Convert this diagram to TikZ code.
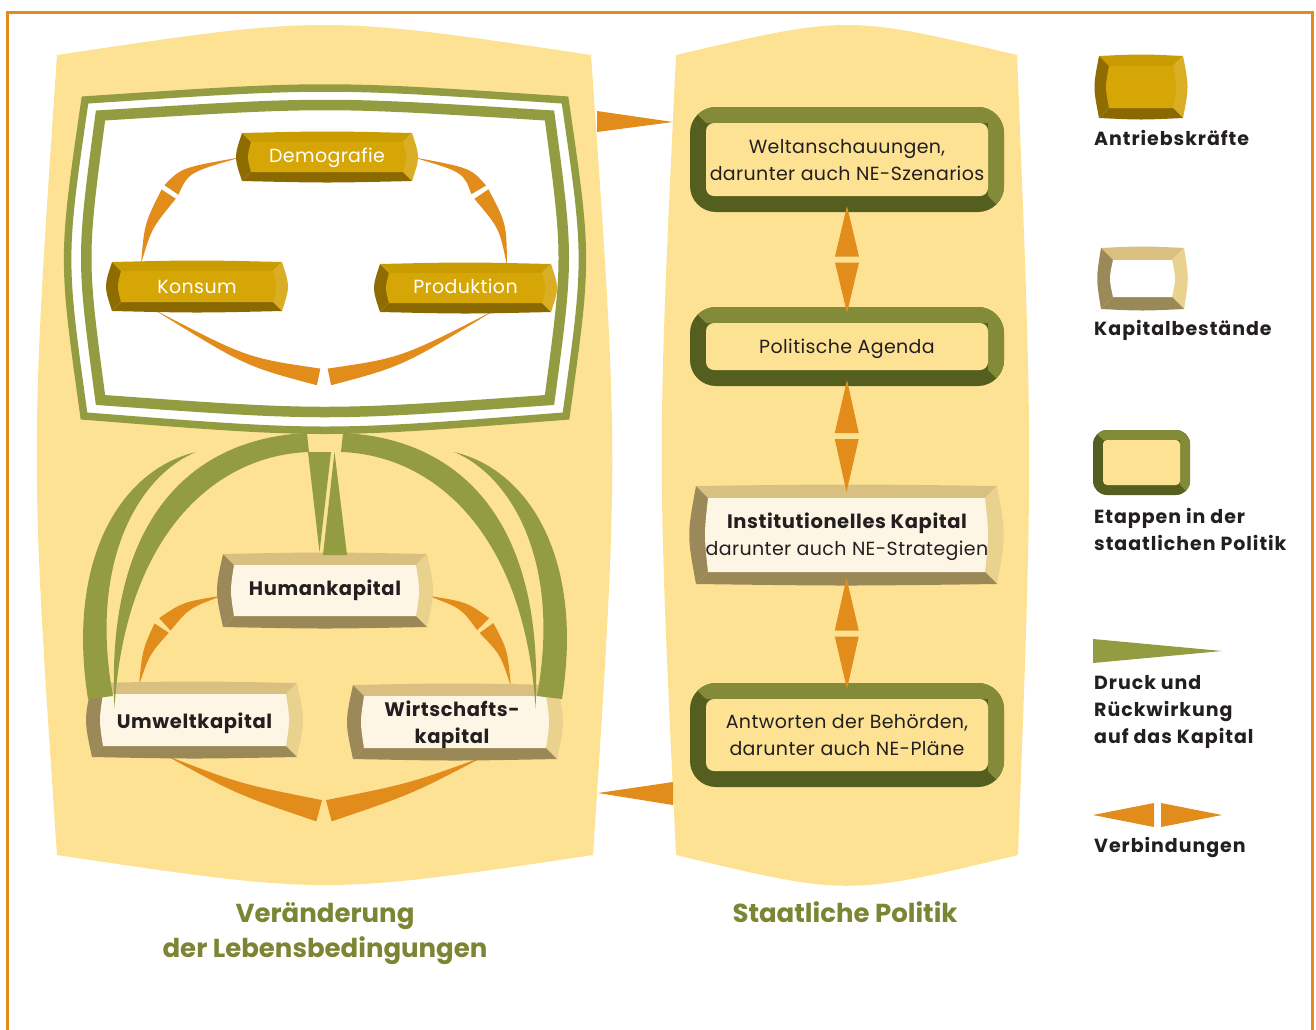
\documentclass[tikz,border=0pt]{standalone}
\usepackage{fontspec}
\setmainfont{Poppins}
\usetikzlibrary{calc}
\definecolor{panelc}{HTML}{FEE294}
\definecolor{connc}{HTML}{E28C1C}
\definecolor{druckc}{HTML}{939C41}
\definecolor{stagelight}{HTML}{838B38}
\definecolor{stagedark}{HTML}{545F1F}
\definecolor{gtop}{HTML}{C99D02}
\definecolor{gleft}{HTML}{8E6C00}
\definecolor{gbot}{HTML}{8A6A00}
\definecolor{gright}{HTML}{D9AE25}
\definecolor{gface}{HTML}{D5A605}
\definecolor{ktop}{HTML}{D9BF80}
\definecolor{kleft}{HTML}{9B8959}
\definecolor{kbot}{HTML}{9A8857}
\definecolor{kright}{HTML}{E9D18E}
\definecolor{kface}{HTML}{FEF6E5}
\definecolor{titlec}{HTML}{7B8533}
\definecolor{txtc}{HTML}{231F20}

% bevelled box drawn round a named node
\newcommand\bevelbox[8]{%
  \coordinate (bNW) at (#1.north west);
  \coordinate (bNE) at (#1.north east);
  \coordinate (bSE) at (#1.south east);
  \coordinate (bSW) at (#1.south west);
  \coordinate (iNW) at ($(#1.north west)+(#2,#2)$);
  \coordinate (iNE) at ($(#1.north east)+(-#2,#2)$);
  \coordinate (iSE) at ($(#1.south east)+(-#2,-#2)$);
  \coordinate (iSW) at ($(#1.south west)+(#2,-#2)$);
  \fill[#3] (bNW) .. controls ($(#1.north)+(0,-2)$) .. (bNE) -- (iNE) -- (iNW) -- cycle;
  \fill[#6] (bNE) .. controls ($(#1.east)+(#8,0)$) .. (bSE) -- (iSE) -- (iNE) -- cycle;
  \fill[#5] (bSE) .. controls ($(#1.south)+(0,2)$) .. (bSW) -- (iSW) -- (iSE) -- cycle;
  \fill[#4] (bSW) .. controls ($(#1.west)+(-#8,0)$) .. (bNW) -- (iNW) -- (iSW) -- cycle;
  \fill[#7] (iNW) -- (iNE) .. controls ($(#1.east)+(-#2+4,0)$) .. (iSE) -- (iSW) .. controls ($(#1.west)+(#2-4,0)$) .. (iNW) -- cycle;}

% rounded stage box
\newcommand\stagebox[4]{%
  \fill[stagedark, rounded corners=#3] (#1.north west) rectangle (#1.south east);
  \begin{scope}
    \clip[rounded corners=#3] (#1.north west) rectangle (#1.south east);
    \fill[stagelight] (#1.north west) -- (#1.north east) -- (#1.south east)
      -- ($(#1.south east)+(-#2,-#2)$) -- ($(#1.north east)+(-#2,#2)$) -- ($(#1.north west)+(#2,#2)$) -- cycle;
  \end{scope}
  \fill[panelc, rounded corners=#4] ($(#1.north west)+(#2,#2)$) rectangle ($(#1.south east)+(-#2,-#2)$);}

% tapered curved wedge: tip, control, base centre, half width
\newcommand\taper[4]{%
  \coordinate (tP) at ($(#3)!#4!90:(#2)$);
  \coordinate (tQ) at ($(#3)!#4!-90:(#2)$);
  \fill[connc] (#1) .. controls ($(#2)+0.5*(tP)-0.5*(#3)$) .. (tP) -- (tQ)
    .. controls ($(#2)+0.5*(tQ)-0.5*(#3)$) .. (#1) -- cycle;}
% double connection with gap
\newcommand\conn[7]{%
  \coordinate (gA) at ($(#3)!#7!(#2)$);
  \coordinate (gB) at ($(#3)!#7!(#4)$);
  \taper{#1}{#2}{gA}{#6}
  \taper{#5}{#4}{gB}{#6}}
% vertical double triangle between two stage nodes
\newcommand\vdouble[2]{%
  \coordinate (vm) at ($(#1.south)!.5!(#2.north)$);
  \fill[connc] ($(#1.south)+(0,-6)$) -- ($(vm)+(-12,-3)$) -- ($(vm)+(12,-3)$) -- cycle;
  \fill[connc] ($(#2.north)+(0,6)$) -- ($(vm)+(-12,3)$) -- ($(vm)+(12,3)$) -- cycle;}

\tikzset{
  boxnode/.style={inner sep=0pt, outer sep=0pt},
  bodytxt/.style={font=\fontsize{19}{23}\selectfont\addfontfeatures{LetterSpace=2}, text=txtc, inner sep=0pt, anchor=base},
  boldtxt/.style={font=\fontsize{19.5}{23}\selectfont\bfseries\addfontfeatures{LetterSpace=3}, text=txtc, inner sep=0pt, anchor=base},
  goldtxt/.style={bodytxt, text=white},
  legtxt/.style={font=\fontsize{19}{23}\selectfont\bfseries\addfontfeatures{LetterSpace=5}, text=txtc, inner sep=0pt, anchor=base west},
  titletxt/.style={font=\fontsize{26}{30}\selectfont\bfseries, text=titlec, inner sep=0pt, anchor=base},
}

\begin{document}
\begin{tikzpicture}[x=1pt,y=-1pt]
\useasboundingbox (0,0) rectangle (1316,1029);
\clip (0,0) rectangle (1316,1029);
\fill[white] (0,0) rectangle (1316,1029);

% outer orange frame
\draw[connc, line width=3] (7,1040) -- (7,12.5) -- (1312.5,12.5) -- (1312.5,1040);

% panels
\fill[panelc] (57,55) .. controls (324,15) .. (591,55) .. controls (619,455) .. (593,855)
  .. controls (325,895) .. (57,855) .. controls (30,455) .. (57,55) -- cycle;
\fill[panelc] (676,55) .. controls (847,15) .. (1017,55) .. controls (1033,455) .. (1018,855)
  .. controls (847,896) .. (676,855) .. controls (657,455) .. (676,55) -- cycle;

% links between the panels
\coordinate (pl1) at (597,121.5);
\coordinate (pr1) at (673,122);
\fill[connc] (pr1) -- ($(pl1)+(0,-10.5)$) -- ($(pl1)+(0,10.5)$) -- cycle;
\coordinate (pl2) at (598,793);
\coordinate (pr2) at (673,793.5);
\fill[connc] (pl2) -- ($(pr2)+(0,-11.5)$) -- ($(pr2)+(0,11.5)$) -- cycle;

% double frame
\fill[white] (85,100) .. controls (325,84) .. (565,100) .. controls (588,258) .. (566,416)
  .. controls (325,435) .. (84,416) .. controls (62,258) .. (85,100) -- cycle;
\draw[druckc, line width=7.5] (85,100) .. controls (325,84) .. (565,100) .. controls (588,258) .. (566,416)
  .. controls (325,435) .. (84,416) .. controls (62,258) .. (85,100) -- cycle;
\draw[druckc, line width=10.5] (100.5,115.5) .. controls (325,101.5) .. (549.5,115.5) .. controls (568.5,258) .. (549.5,400)
  .. controls (325,416) .. (100.5,400) .. controls (81.5,258) .. (100.5,115.5) -- cycle;

% nodes (positions)
\node[boxnode, minimum width=170, minimum height=48] (demo) at (327,157) {};
\node[boxnode, minimum width=170, minimum height=49] (kon) at (197,286.5) {};
\node[boxnode, minimum width=171, minimum height=48] (prod) at (465.5,288) {};
\node[boxnode, minimum width=204, minimum height=73] (hum) at (325,590.5) {};
\node[boxnode, minimum width=205, minimum height=74] (umw) at (194.5,720) {};
\node[boxnode, minimum width=204, minimum height=74] (wir) at (455,722) {};
\node[boxnode, minimum width=301, minimum height=98] (inst) at (846.5,535) {};
\node[boxnode, minimum width=314, minimum height=105] (welt) at (847,159.5) {};
\node[boxnode, minimum width=314, minimum height=79] (agenda) at (847,346.5) {};
\node[boxnode, minimum width=314, minimum height=104] (antw) at (847,735) {};
\node[boxnode, minimum width=84, minimum height=62] (lgold) at (1141,87) {};
\node[boxnode, minimum width=83, minimum height=61] (lkap) at (1142.5,278.5) {};
\node[boxnode, minimum width=97, minimum height=65] (lstage) at (1141.5,462.5) {};

% connections among the driving forces
\conn{demo.west}{185,170}{170,192}{148,226}{$(kon.north)+(-56,2)$}{8.5pt}{2.5pt}
\conn{demo.east}{467,170}{480,192}{503,226}{$(prod.north)+(41.5,2)$}{8.5pt}{2.5pt}
\conn{$(kon.south)+(-44,-2)$}{246,362}{324,378}{402,362}{$(prod.south)+(29.5,-2)$}{8.5pt}{5.5pt}

\bevelbox{demo}{9}{gtop}{gleft}{gbot}{gright}{gface}{8}
\bevelbox{kon}{9}{gtop}{gleft}{gbot}{gright}{gface}{8}
\bevelbox{prod}{9}{gtop}{gleft}{gbot}{gright}{gface}{8}
\node[goldtxt] (tdemo) at ($(demo.center)+(0,5)$) {Demografie};
\node[goldtxt] (tkon) at ($(kon.center)+(0,7)$) {Konsum};
\node[goldtxt] (tprod) at ($(prod.center)+(0,5)$) {Produktion};

% connections among the capital stocks
\conn{$(hum.west)+(0,5)$}{186,605}{163,626}{146,652}{$(umw.north)+(-55.5,2)$}{8.5pt}{2.5pt}
\conn{$(hum.east)+(0,5)$}{464,605}{485,626}{504,652}{$(wir.north)+(56,2)$}{8.5pt}{2.5pt}
\conn{$(umw.south)+(-29.5,-2)$}{238,789}{324,812}{410,789}{$(wir.south)+(28,-2)$}{11pt}{5pt}

\bevelbox{hum}{11}{ktop}{kleft}{kbot}{kright}{kface}{8}
\bevelbox{umw}{11}{ktop}{kleft}{kbot}{kright}{kface}{8}
\bevelbox{wir}{11}{ktop}{kleft}{kbot}{kright}{kface}{8}

% pressure and feedback
\fill[druckc] (196,452) .. controls (120,470) and (66,560) .. (88,699) -- (113,696)
  .. controls (88,560) and (140,475) .. (196,452) -- cycle;
\fill[druckc] (454,452) .. controls (530,470) and (584,560) .. (562,699) -- (537,696)
  .. controls (562,560) and (510,475) .. (454,452) -- cycle;
\fill[druckc] (307,433) .. controls (195,438) and (105,515) .. (114.5,708)
  .. controls (125,535) and (215,455) .. (309,452) -- cycle;
\fill[druckc] (343,433) .. controls (455,438) and (545,515) .. (535.5,708)
  .. controls (525,535) and (435,455) .. (341,452) -- cycle;
\fill[druckc] (308,452) -- (331,452) -- ($(hum.north)+(-5.5,-2)$) -- cycle;
\fill[druckc] ($(hum.north)+(-2,1)$) -- ($(hum.north)+(22,1)$) -- (334.5,452) -- cycle;

\node[boldtxt] (thum) at ($(hum.center)+(0,5)$) {Humankapital};
\node[boldtxt] (tumw) at ($(umw.center)+(0,8)$) {Umweltkapital};
\node[boldtxt] (twir1) at ($(wir.center)+(-3,-6)$) {Wirtschafts-};
\node[boldtxt] (twir2) at ($(wir.center)+(-3,21)$) {kapital};

% state policy column
\stagebox{welt}{16}{26}{8}
\stagebox{agenda}{16}{26}{8}
\stagebox{antw}{16}{26}{8}
\bevelbox{inst}{12}{ktop}{kleft}{kbot}{kright}{kface}{9}
\vdouble{welt}{agenda}
\vdouble{agenda}{inst}
\vdouble{inst}{antw}

\node[bodytxt] (tw1) at ($(welt.center)+(0,-6.5)$) {Weltanschauungen,};
\node[bodytxt] (tw2) at ($(welt.center)+(0,20.5)$) {darunter auch NE-Szenarios};
\node[bodytxt] (ta1) at ($(agenda.center)+(0,6.5)$) {Politische Agenda};
\node[boldtxt] (ti1) at ($(inst.center)+(0.5,-7)$) {Institutionelles Kapital};
\node[bodytxt] (ti2) at ($(inst.center)+(0.5,20)$) {darunter auch NE-Strategien};
\node[bodytxt] (tb1) at ($(antw.center)+(0,-7)$) {Antworten der Behörden,};
\node[bodytxt] (tb2) at ($(antw.center)+(0,20)$) {darunter auch NE-Pläne};

% legend
\bevelbox{lgold}{10}{gtop}{gleft}{gbot}{gright}{gface}{6}
\bevelbox{lkap}{12}{ktop}{kleft}{kbot}{kright}{white}{5}
\stagebox{lstage}{10}{14}{4}
\fill[druckc] (1093,639) -- (1222,651) -- (1093,663) -- cycle;
\fill[connc] (1093,815) -- (1154,803) -- (1154,827) -- cycle;
\fill[connc] (1222,815) -- (1161,803) -- (1161,827) -- cycle;

\node[legtxt] (l1) at (1094,145) {Antriebskräfte};
\node[legtxt] (l2) at (1094,335) {Kapitalbestände};
\node[legtxt] (l3) at (1094,523) {Etappen in der};
\node[legtxt] (l4) at (1094,550) {staatlichen Politik};
\node[legtxt] (l5) at (1094,689) {Druck und};
\node[legtxt] (l6) at (1094,716) {Rückwirkung};
\node[legtxt] (l7) at (1094,743) {auf das Kapital};
\node[legtxt] (l8) at (1094,852) {Verbindungen};

% titles
\node[titletxt] (t1) at (325,922) {Veränderung};
\node[titletxt] (t2) at (325,957) {der Lebensbedingungen};
\node[titletxt] (t3) at (845,922) {Staatliche Politik};
\end{tikzpicture}
\end{document}
